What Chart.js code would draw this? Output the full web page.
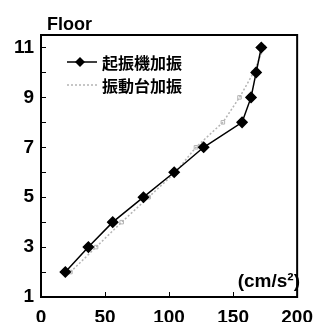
<!DOCTYPE html>
<html>
<head>
<meta charset="utf-8">
<script src="https://cdn.jsdelivr.net/npm/chart.js@4.4.0/dist/chart.umd.min.js"></script>
<style>
  html, body { margin: 0; padding: 0; background: #fff; }
  #wrap { width: 322px; height: 322px; }
</style>
</head>
<body>
<div id="wrap"><canvas id="myChart" width="322" height="322"></canvas></div>
<script>
// floors (y) and acceleration (x, cm/s2)
var floors = [2, 3, 4, 5, 6, 7, 8, 9, 10, 11];
var exciterAcc = [19, 37, 56, 80, 104, 127, 157, 164, 168, 172];
var shakeTableAcc = [23, 43, 63, 84, 105, 121, 142, 155, 166, 174];
var seriesNames = ['起振機加振', '振動台加振'];
var xTicks = [0, 50, 100, 150, 200];
var yLabels = [1, 3, 5, 7, 9, 11];

var pts1 = [], pts2 = [];
for (let i = 0; i < floors.length; i++) {
  pts1.push({x: exciterAcc[i], y: floors[i]});
  pts2.push({x: shakeTableAcc[i], y: floors[i]});
}

const FONT = '"Liberation Sans", Arial, sans-serif';
const CJK = '"Noto Sans CJK JP", sans-serif';

// frame, inward ticks, texts and legend
const decor = {
  id: 'decor',
  afterDraw(chart) {
    const c = chart.ctx, a = chart.chartArea;
    const xs = chart.scales.x, ys = chart.scales.y;
    c.save();
    c.strokeStyle = '#000';
    c.lineWidth = 2;
    c.strokeRect(a.left, a.top, a.right - a.left, a.bottom - a.top);
    c.lineWidth = 1;
    c.beginPath();
    for (let f = 2; f <= 11; f++) {
      const y = Math.round(ys.getPixelForValue(f)) + 0.5;
      c.moveTo(a.left, y); c.lineTo(a.left + 5, y);
    }
    for (const t of xTicks) {
      const x = Math.round(xs.getPixelForValue(t)) + 0.5;
      c.moveTo(x, a.bottom); c.lineTo(x, a.bottom - 5);
    }
    c.stroke();

    c.fillStyle = '#000';
    c.font = 'bold 18px ' + FONT;
    c.textBaseline = 'middle';
    c.textAlign = 'left';
    c.fillText('Floor', 47, 25);
    c.font = 'bold 19px ' + FONT;
    c.textAlign = 'right';
    c.fillText('(cm/s²)', 300, 282);

    // legend
    const rows = [
      {y: 62, ds: chart.data.datasets[0]},
      {y: 85, ds: chart.data.datasets[1]}
    ];
    c.textAlign = 'left';
    c.font = 'bold 16px ' + CJK;
    for (const r of rows) {
      c.strokeStyle = r.ds.borderColor;
      c.lineWidth = r.ds.borderWidth;
      c.setLineDash(r.ds.borderDash || []);
      c.beginPath(); c.moveTo(67, r.y); c.lineTo(97, r.y); c.stroke();
      c.setLineDash([]);
      if (r.ds.pointStyle === 'rectRot') {
        c.fillStyle = '#000';
        c.beginPath();
        c.moveTo(80, r.y - 5); c.lineTo(85, r.y); c.lineTo(80, r.y + 5); c.lineTo(75, r.y);
        c.closePath(); c.fill();
      }
      c.fillStyle = '#000';
      c.fillText(r.ds.label, 102, r.y + 1);
    }
    c.restore();
  }
};

new Chart(document.getElementById('myChart'), {
  type: 'scatter',
  data: {
    datasets: [{
      label: seriesNames[0],
      data: pts1,
      showLine: true,
      borderColor: '#000',
      backgroundColor: '#000',
      borderWidth: 1.5,
      pointStyle: 'rectRot',
      pointRadius: 5,
      order: 1
    }, {
      label: seriesNames[1],
      data: pts2,
      showLine: true,
      borderColor: '#b4b4b4',
      backgroundColor: 'rgba(0,0,0,0)',
      borderWidth: 1.5,
      borderDash: [2, 2],
      pointStyle: 'rect',
      pointRadius: 2.5,
      pointBorderWidth: 1,
      order: 2
    }]
  },
  options: {
    responsive: false,
    animation: false,
    layout: { padding: { top: 35, right: 20, left: 0, bottom: 0 } },
    plugins: { legend: { display: false }, tooltip: { enabled: false } },
    scales: {
      x: {
        type: 'linear',
        min: 0, max: 200,
        afterBuildTicks: s => { s.ticks = xTicks.map(v => ({value: v})); },
        afterFit: s => { s.height = 25; },
        grid: { display: false, drawTicks: false },
        border: { display: false },
        ticks: { color: '#000', padding: 9, maxRotation: 0, font: { family: FONT, size: 19, weight: 'bold' } }
      },
      y: {
        type: 'linear',
        min: 1, max: 11.5,
        afterBuildTicks: s => { s.ticks = yLabels.map(v => ({value: v})); },
        afterFit: s => { s.width = 41; },
        grid: { display: false, drawTicks: false },
        border: { display: false },
        ticks: { color: '#000', padding: 7, font: { family: FONT, size: 19, weight: 'bold' } }
      }
    }
  },
  plugins: [decor]
});
</script>
</body>
</html>
